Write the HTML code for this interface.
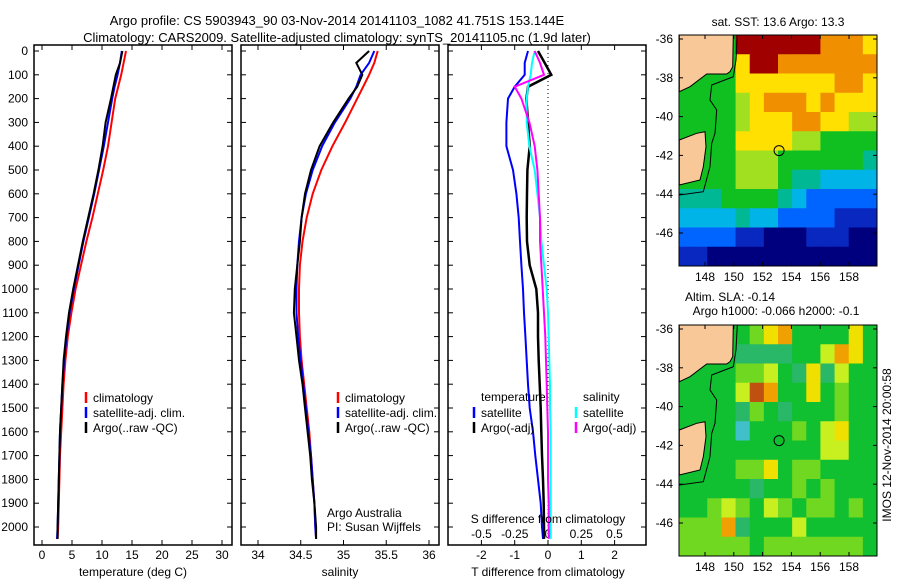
<!DOCTYPE html>
<html><head><meta charset="utf-8"><style>
html,body{margin:0;padding:0;background:#fff}
svg{display:block;font-family:"Liberation Sans",sans-serif}
</style></head><body>
<svg id="fig" width="900" height="580" viewBox="0 0 900 580" xmlns="http://www.w3.org/2000/svg">
<text x="337" y="25" font-size="13" text-anchor="middle">Argo profile: CS 5903943_90 03-Nov-2014 20141103_1082 41.751S 153.144E</text>
<text x="337" y="42" font-size="13" text-anchor="middle">Climatology: CARS2009. Satellite-adjusted climatology: synTS_20141105.nc (1.9d later)</text>
<g id="p1"></g>
<g id="p2"></g>
<g id="p3"></g>
<g id="m1"></g>
<g id="m2"></g>
<text x="778" y="26" font-size="12" text-anchor="middle">sat. SST: 13.6 Argo: 13.3</text>
<text x="730" y="301" font-size="12" text-anchor="middle">Altim. SLA: -0.14</text>
<text x="776" y="315" font-size="12" text-anchor="middle">Argo h1000: -0.066 h2000: -0.1</text>
<text transform="translate(891,445) rotate(-90)" font-size="12" text-anchor="middle">IMOS 12-Nov-2014 20:00:58</text>
</svg>
<script>
const NS="http://www.w3.org/2000/svg";
const depths=[0,50,100,150,200,300,400,500,600,700,800,900,1000,1100,1200,1300,1400,1500,1600,1700,1800,1900,2000,2050];
const depthTicks=[0,100,200,300,400,500,600,700,800,900,1000,1100,1200,1300,1400,1500,1600,1700,1800,1900,2000];
const tempClim=[14.0,13.6,13.2,12.7,12.2,11.6,11.0,10.2,9.3,8.4,7.4,6.5,5.6,4.9,4.3,3.9,3.6,3.4,3.2,3.0,2.9,2.8,2.7,2.6];
const tempSat=[13.3,13.0,12.6,12.1,11.7,11.0,10.3,9.5,8.7,7.8,6.9,6.1,5.3,4.6,4.1,3.7,3.4,3.2,3.0,2.9,2.8,2.7,2.6,2.5];
const tempArgo=[13.4,13.0,12.3,11.9,11.5,10.6,10.1,9.4,8.6,7.7,6.8,6.0,5.2,4.5,4.0,3.6,3.4,3.2,3.0,2.9,2.8,2.7,2.6,2.6];
const salClim=[35.40,35.36,35.30,35.23,35.16,35.02,34.87,34.74,34.64,34.57,34.52,34.49,34.48,34.48,34.49,34.51,34.54,34.57,34.60,34.62,34.64,34.66,34.67,34.68];
const salSat=[35.36,35.30,35.20,35.15,35.08,34.90,34.75,34.64,34.56,34.51,34.48,34.46,34.45,34.45,34.47,34.50,34.53,34.56,34.59,34.62,34.64,34.66,34.67,34.68];
const salArgo=[35.30,35.15,35.22,35.16,35.06,34.88,34.72,34.62,34.55,34.51,34.49,34.46,34.43,34.42,34.45,34.48,34.52,34.55,34.58,34.61,34.63,34.66,34.68,34.68];
const dTsat=[-0.6,-0.7,-0.7,-1.0,-1.2,-1.25,-1.25,-1.05,-0.95,-0.88,-0.84,-0.80,-0.75,-0.72,-0.68,-0.64,-0.60,-0.55,-0.45,-0.38,-0.30,-0.22,-0.18,-0.15];
const dTargo=[-0.3,-0.1,0.1,-0.6,-0.65,-0.6,-0.55,-0.62,-0.63,-0.64,-0.63,-0.55,-0.35,-0.3,-0.3,-0.28,-0.25,-0.22,-0.2,-0.18,-0.15,-0.13,-0.12,-0.12];
const dSsat=[-0.10,-0.12,-0.13,-0.15,-0.16,-0.16,-0.14,-0.10,-0.08,-0.06,-0.05,-0.03,-0.01,0.0,0.005,0.01,0.015,0.015,0.02,0.02,0.02,0.02,0.02,0.02];
const dSargo=[-0.10,-0.06,-0.03,-0.25,-0.20,-0.14,-0.10,-0.08,-0.07,-0.06,-0.06,-0.05,-0.04,-0.03,-0.02,-0.015,-0.01,-0.005,0,0,0,0.005,0.005,0.005];
const tTicks=[0,5,10,15,20,25,30];
const sTicks=[34,34.5,35,35.5,36];
const dTTicks=[-2,-1,0,1,2];
const dSTicks=[-0.5,-0.25,0,0.25,0.5];
const sstGrid=["55559999998887","55557998888888","55557777777887","55556788878777","55556777887766","55557777665555","55556665555554","55556665443333","44455554322222","33334332222111","22221100011100","11000000000000"];
const slaGrid=["44444578444474","44443333446874","44445564373644","44446984474544","44443543444544","44441444546744","44444444446644","44445574554444","44444344545444","44565465455454","55583444644444","55555455555554"];
const mapLonTicks=[148,150,152,154,156,158];
const mapLatTicks=[-36,-38,-40,-42,-44,-46];
const argoLon=153.144, argoLat=-41.751;

function el(t,a,p){const e=document.createElementNS(NS,t);for(const k in a)e.setAttribute(k,a[k]);p.appendChild(e);return e;}
function txt(p,x,y,s,anchor,size){const t=el('text',{x:x,y:y,'font-size':size||12,'text-anchor':anchor||'middle'},p);t.textContent=s;return t;}
const yD=d=>51+d*0.238;
const PT=45,PB=545;

function panel(g,x0,x1,xs,ticks,fmt,showY,nm){
  const f=el('rect',{x:x0,y:PT,width:x1-x0,height:PB-PT,fill:'#fff',stroke:'#000','stroke-width':1.5},g);
  
  
  depthTicks.forEach(d=>{el('line',{x1:x0,x2:x0+5,y1:yD(d),y2:yD(d),stroke:'#000'},g);el('line',{x1:x1,x2:x1-5,y1:yD(d),y2:yD(d),stroke:'#000'},g);
    if(showY){const t=txt(g,28,yD(d)+4,String(d),'end');}});
  ticks.forEach(v=>{const x=xs(v);el('line',{x1:x,x2:x,y1:PB,y2:PB-5,stroke:'#000'},g);el('line',{x1:x,x2:x,y1:PT,y2:PT+5,stroke:'#000'},g);
    const t=txt(g,x,559,fmt(v));});
}
function line(g,xs,vals,color,w,nm){
  const pts=vals.map((v,i)=>xs(v).toFixed(1)+','+yD(depths[i]).toFixed(1)).join(' ');
  const p=el('polyline',{points:pts,fill:'none',stroke:color,'stroke-width':w},g);
  
  
}
function legend(g,x,y,color,label){
  const m=el('line',{x1:x,x2:x,y1:y-10,y2:y+1,stroke:color,'stroke-width':2.5},g);
  
  
  const t=txt(g,x+7,y,label,'start');
  
  
}
// Panel 1
const g1=document.getElementById('p1');
const xT=v=>42+v*6;
panel(g1,34,232,xT,tTicks,v=>String(v),true,'temperature');
line(g1,xT,tempClim,'#ff0000',2,'temp-climatology-line');
line(g1,xT,tempSat,'#0000ff',2,'temp-satellite-line');
line(g1,xT,tempArgo,'#000000',2,'temp-argo-line');
legend(g1,86,402,'#ff0000','climatology');legend(g1,86,417,'#0000ff','satellite-adj. clim.');legend(g1,86,432,'#000','Argo(..raw -QC)');
let t=txt(g1,133,576,'temperature (deg C)');
// Panel 2
const g2=document.getElementById('p2');
const xS=v=>258+(v-34)*85.5;
panel(g2,241,439,xS,sTicks,v=>String(v),false,'salinity');
line(g2,xS,salClim,'#ff0000',2,'sal-climatology-line');
line(g2,xS,salSat,'#0000ff',2,'sal-satellite-line');
line(g2,xS,salArgo,'#000000',2,'sal-argo-line');
legend(g2,338,402,'#ff0000','climatology');legend(g2,338,417,'#0000ff','satellite-adj. clim.');legend(g2,338,432,'#000','Argo(..raw -QC)');
t=txt(g2,327,517,'Argo Australia','start');
t=txt(g2,327,531,'PI: Susan Wijffels','start');
t=txt(g2,340,576,'salinity');
// Panel 3
const g3=document.getElementById('p3');
const xDT=v=>548+v*33.3, xDS=v=>548+v*133;
panel(g3,448,646,xDT,dTTicks,v=>String(v),false,'difference');
el('line',{x1:548,x2:548,y1:PT,y2:PB,stroke:'#000','stroke-dasharray':'1,3'},g3);
dSTicks.forEach(v=>{const tt=txt(g3,xDS(v),538,String(v));});
line(g3,xDT,dTsat,'#0000ff',2,'tdiff-satellite-line');
line(g3,xDT,dTargo,'#000000',2.5,'tdiff-argo-line');
line(g3,xDS,dSsat,'#00ffff',2,'sdiff-satellite-line');
line(g3,xDS,dSargo,'#ff00ff',2,'sdiff-argo-line');
t=txt(g3,481,401,'temperature','start');
t=txt(g3,583,401,'salinity','start');
legend(g3,474,417,'#0000ff','satellite');legend(g3,474,432,'#000','Argo(-adj)');
legend(g3,576,417,'#00ffff','satellite');legend(g3,576,432,'#ff00ff','Argo(-adj)');
t=txt(g3,548,523,'S difference from climatology');
t=txt(g3,548,576,'T difference from climatology');
// Maps
const sstCols=['#00007f','#0828c0','#0064ff','#00b4e8','#00b894','#10c020','#a0e020','#ffe000','#f09000','#a00000'];
const slaCols=['#20c0e0','#40c0c8','#30b890','#28b868','#10c030','#70d820','#c8f020','#f0e000','#f0a000','#c05010'];
function map(g,y0,grid,cols,nm){
  const X0=679,X1=877,Y1=y0+231;
  const lx=lon=>705+(lon-148)*14.4, ly=lat=>y0+4+(-36-lat)*19.4;
  const nr=grid.length,nc=grid[0].length,cw=(X1-X0)/nc,ch=(Y1-y0)/nr;
  grid.forEach((row,r)=>{for(let c=0;c<nc;c++){
    const cell=el('rect',{x:X0+c*cw,y:y0+r*ch,width:cw+0.5,height:ch+0.5,fill:cols[+row[c]]},g);
    
    }});
  const P=(pts)=>pts.map(p=>(650+p[0]/3).toFixed(1)+','+(y0-35+p[1]/3).toFixed(1)).join(' ');
  const l1=el('polygon',{points:P([[88,105],[250,105],[248,200],[240,215],[230,222],[170,222],[120,260],[88,275]]),fill:'#f8c898',stroke:'#000','stroke-width':1},g);
  
  const l2=el('polygon',{points:P([[88,420],[140,400],[165,395],[168,440],[160,500],[150,540],[88,555]]),fill:'#f8c898',stroke:'#000','stroke-width':1},g);
  
  el('polyline',{points:P([[262,105],[258,180],[250,230],[185,255],[180,300],[200,330],[195,400],[185,430],[180,500],[160,575],[88,585]]),fill:'none',stroke:'#000','stroke-width':1},g);
  const c=el('circle',{cx:lx(argoLon),cy:ly(argoLat),r:5,fill:'none',stroke:'#000','stroke-width':1},g);
  
  el('rect',{x:X0,y:y0,width:X1-X0,height:Y1-y0,fill:'none',stroke:'#000','stroke-width':1},g);
  mapLonTicks.forEach(v=>{const x=lx(v);el('line',{x1:x,x2:x,y1:Y1,y2:Y1-4,stroke:'#000'},g);el('line',{x1:x,x2:x,y1:y0,y2:y0+4,stroke:'#000'},g);
    const tt=txt(g,x,Y1+15,String(v));});
  mapLatTicks.forEach(v=>{const y=ly(v);el('line',{x1:X0,x2:X0+4,y1:y,y2:y,stroke:'#000'},g);el('line',{x1:X1,x2:X1-4,y1:y,y2:y,stroke:'#000'},g);
    const tt=txt(g,673,y+4,String(v),'end');});
}
map(document.getElementById('m1'),35,sstGrid,sstCols,'sst');
map(document.getElementById('m2'),325,slaGrid,slaCols,'sla');
</script>
</body></html>
